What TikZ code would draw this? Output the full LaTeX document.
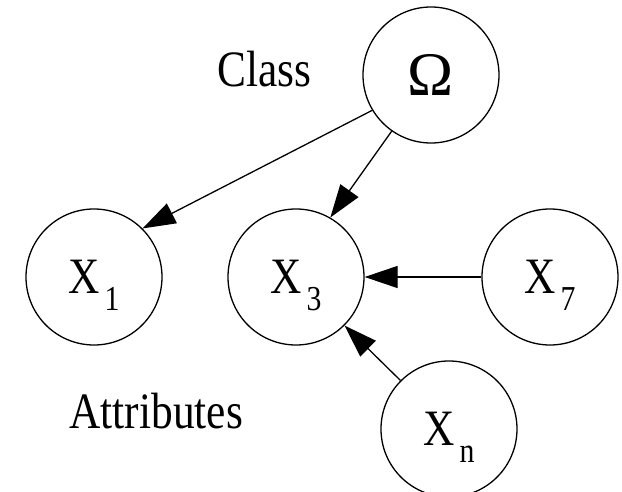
\documentclass[tikz,border=0pt]{standalone}
\usepackage{fontspec}
\setmainfont[FakeStretch=0.85]{Liberation Serif}
\newfontfamily\grkfont{Liberation Serif}
\usetikzlibrary{arrows.meta}
\tikzset{
  var/.style={circle,draw,line width=1.3pt,minimum size=136pt,inner sep=0pt,font=\fontsize{51}{51}\selectfont},
  dep/.style={-{Triangle[length=33pt,width=22pt]},line width=1.3pt},
}
\newcommand{\attr}[1]{X\hspace{5pt}\raisebox{-17pt}[0pt][0pt]{\fontsize{35}{35}\selectfont #1}}

\begin{document}
\begin{tikzpicture}[x=1pt,y=-1pt]
  \useasboundingbox (0,0) rectangle (622,492);
  \node[var] (om) at (431,75) {\grkfont\fontsize{62}{62}\selectfont Ω}; %class node
  \node[var] (x1) at (94,277) {\attr{1}};
  \node[var] (x3) at (296,277) {\attr{3}};
  \node[var] (x7) at (550,277) {\attr{7}};
  \node[var] (xn) at (449,429) {\attr{n}};
  \node[anchor=base west,font=\fontsize{51}{51}\selectfont] (cls) at (214,87) {Class};
  \node[anchor=base west,font=\fontsize{51}{51}\selectfont] (att) at (66,428) {Attributes};
  \draw[dep] (om.211)--(x1.45);
  \draw[dep] (om.235)--(x3.60);
  \draw[dep] (x7.180)--(x3.0);
  \draw[dep] (xn.135)--(x3.-45);
\end{tikzpicture}
\end{document}
